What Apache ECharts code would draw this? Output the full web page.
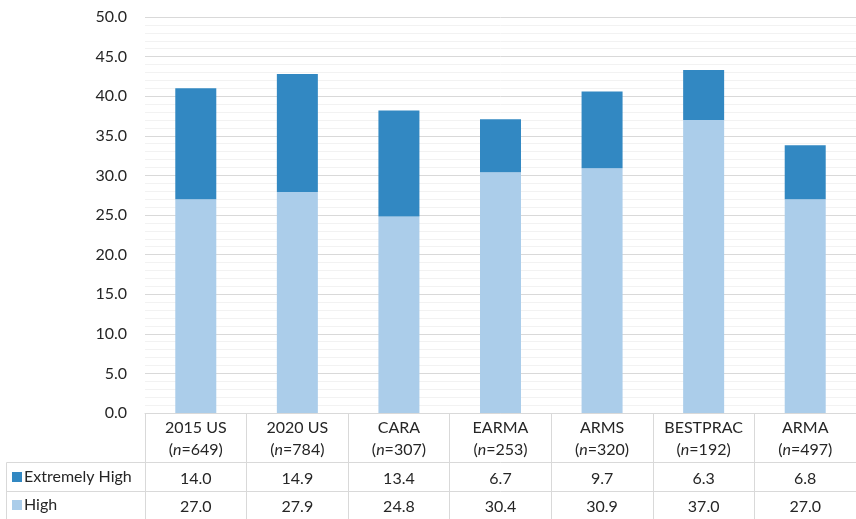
<!DOCTYPE html>
<html>
<head>
<meta charset="utf-8">
<script src="https://cdn.jsdelivr.net/npm/echarts@6/dist/echarts.min.js"></script>
<style>html,body{margin:0;padding:0;background:#fff}#c{width:856px;height:519px}</style>
</head>
<body>
<div id="c"></div>
<script>
const categories = ['2015 US', '2020 US', 'CARA', 'EARMA', 'ARMS', 'BESTPRAC', 'ARMA'];
const sampleSizes = [649, 784, 307, 253, 320, 192, 497];
const extremelyHigh = [14.0, 14.9, 13.4, 6.7, 9.7, 6.3, 6.8];
const high = [27.0, 27.9, 24.8, 30.4, 30.9, 37.0, 27.0];
const seriesNames = ['Extremely High', 'High'];

const FONT = 'Lato, Carlito, "Liberation Sans", sans-serif';
const FS = 16;
const TXT = '#262626';
const LINE = '#d9d9d9';
const DARK = '#3288c2';
const LIGHT = '#abcdea';

const chart = echarts.init(document.getElementById('c'));
const catLabels = categories.map((c, i) => c + '\n({i|n}=' + sampleSizes[i] + ')');

const legendBase = {
  orient: 'vertical', left: 7,
  itemWidth: 10, itemHeight: 10,
  icon: 'rect',
  textStyle: { fontFamily: FONT, fontSize: FS, lineHeight: 20, color: TXT, padding: [0, 0, 0, -3] },
  selectedMode: false
};

const option = {
  animation: false,
  textStyle: { fontFamily: FONT },
  grid: { left: 145, right: 0, top: 17, bottom: 106, containLabel: false },
  legend: [
    Object.assign({}, legendBase, { data: [seriesNames[0]], top: 462 }),
    Object.assign({}, legendBase, { data: [seriesNames[1]], top: 490 })
  ],
  xAxis: [
    {
      type: 'category', data: catLabels, position: 'bottom',
      axisLine: { show: true, lineStyle: { color: LINE, width: 1 } },
      axisTick: { show: true, interval: 0, alignWithLabel: false, length: 106, lineStyle: { color: LINE } },
      axisLabel: {
        interval: 0, margin: 4, fontSize: FS, color: TXT, lineHeight: 22, fontFamily: FONT,
        rich: { i: { fontStyle: 'italic', fontSize: FS, color: TXT, fontFamily: FONT, lineHeight: 22 } }
      }
    },
    {
      type: 'category', data: extremelyHigh.map(v => v.toFixed(1)), position: 'bottom', offset: 49,
      axisLine: { show: true, lineStyle: { color: LINE, width: 1 } },
      axisTick: { show: false },
      axisLabel: { interval: 0, margin: 7, fontSize: FS, color: TXT, lineHeight: 20, fontFamily: FONT }
    },
    {
      type: 'category', data: high.map(v => v.toFixed(1)), position: 'bottom', offset: 78,
      axisLine: { show: true, lineStyle: { color: LINE, width: 1 } },
      axisTick: { show: false },
      axisLabel: { interval: 0, margin: 6, fontSize: FS, color: TXT, lineHeight: 20, fontFamily: FONT }
    }
  ],
  yAxis: {
    type: 'value', min: 0, max: 50, interval: 5,
    axisLine: { show: false }, axisTick: { show: false },
    axisLabel: { margin: 18, fontSize: FS, color: TXT, fontFamily: FONT, formatter: v => v.toFixed(1) },
    splitLine: { show: true, lineStyle: { color: LINE, width: 1 } },
    minorTick: { show: false, splitNumber: 5 },
    minorSplitLine: { show: true, lineStyle: { color: '#f2f2f2', width: 1 } }
  },
  series: [
    {
      name: 'High', type: 'bar', stack: 'total', data: high, barWidth: 41,
      itemStyle: { color: LIGHT }, xAxisIndex: 0
    },
    {
      name: 'Extremely High', type: 'bar', stack: 'total', data: extremelyHigh, barWidth: 41,
      itemStyle: { color: DARK }, xAxisIndex: 0
    }
  ],
  graphic: [
    { type: 'line', shape: { x1: 6.5, y1: 462.5, x2: 145, y2: 462.5 }, style: { stroke: LINE, lineWidth: 1 } },
    { type: 'line', shape: { x1: 6.5, y1: 491.5, x2: 145, y2: 491.5 }, style: { stroke: LINE, lineWidth: 1 } },
    { type: 'line', shape: { x1: 6.5, y1: 462.5, x2: 6.5, y2: 519 }, style: { stroke: LINE, lineWidth: 1 } }
  ]
};
chart.setOption(option);
</script>
</body>
</html>
